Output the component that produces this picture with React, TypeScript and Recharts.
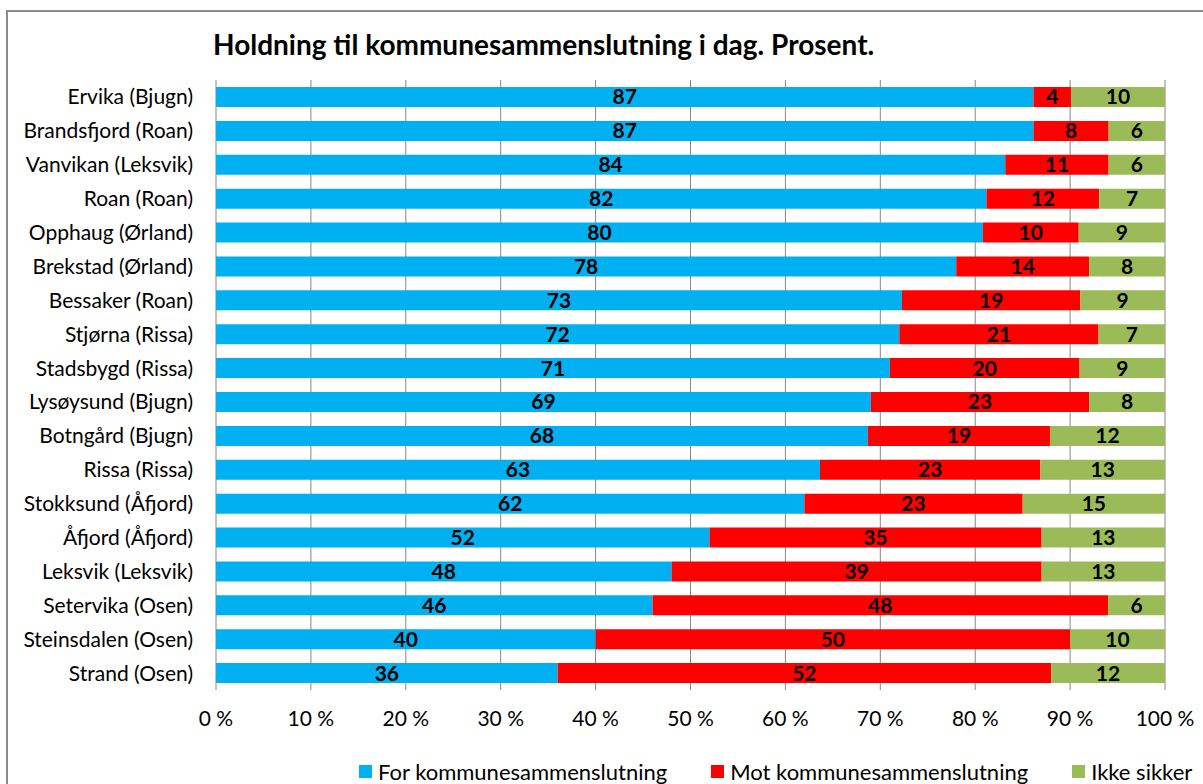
import React from 'react';
import {
  BarChart,
  Bar,
  XAxis,
  YAxis,
  CartesianGrid,
  Legend,
  LabelList
} from 'recharts';

const places = [
  'Ervika (Bjugn)',
  'Brandsfjord (Roan)',
  'Vanvikan (Leksvik)',
  'Roan (Roan)',
  'Opphaug (Ørland)',
  'Brekstad (Ørland)',
  'Bessaker (Roan)',
  'Stjørna (Rissa)',
  'Stadsbygd (Rissa)',
  'Lysøysund (Bjugn)',
  'Botngård (Bjugn)',
  'Rissa (Rissa)',
  'Stokksund (Åfjord)',
  'Åfjord (Åfjord)',
  'Leksvik (Leksvik)',
  'Setervika (Osen)',
  'Steinsdalen (Osen)',
  'Strand (Osen)'
];
const forValues = [87, 87, 84, 82, 80, 78, 73, 72, 71, 69, 68, 63, 62, 52, 48, 46, 40, 36];
const motValues = [4, 8, 11, 12, 10, 14, 19, 21, 20, 23, 19, 23, 23, 35, 39, 48, 50, 52];
const ikkeValues = [10, 6, 6, 7, 9, 8, 9, 7, 9, 8, 12, 13, 15, 13, 13, 6, 10, 12];
const xTicks = [0, 0.1, 0.2, 0.3, 0.4, 0.5, 0.6, 0.7, 0.8, 0.9, 1];

const seriesNames = ['For kommunesammenslutning', 'Mot kommunesammenslutning', 'Ikke sikker'];
const colors = ['#00B0F0', '#FF0000', '#9BBB59'];

const FONT = 'Lato, "Open Sans", sans-serif';

const data = places.map((name, i) => ({
  name,
  forV: forValues[i],
  mot: motValues[i],
  ikke: ikkeValues[i]
}));

// legend sits right of centre in the original, so pin it from the left
const LegendContent = () => (
  <div style={{ height: 30, width: 1203, boxSizing: 'border-box', display: 'flex', alignItems: 'center', whiteSpace: 'nowrap', fontFamily: FONT, fontSize: 22, color: '#000', paddingLeft: 359, paddingTop: 4 }}>
    {seriesNames.map((s, i) => (
      <div key={s} style={{ display: 'flex', flexShrink: 0, alignItems: 'center', marginLeft: i === 0 ? 0 : 44 }}>
        <span style={{ width: 13, height: 13, background: colors[i], display: 'inline-block', marginRight: 6 }} />
        <span>{s}</span>
      </div>
    ))}
  </div>
);

const labelStyle = { fill: '#000', fontSize: 21, fontWeight: 700, fontFamily: FONT };

export default function App() {
  return (
    <div style={{ position: 'absolute', top: 0, left: 0, width: 1203, height: 784, overflow: 'hidden', background: '#fff' }}>
      <div style={{ position: 'absolute', left: 6, top: 10, width: 1220, height: 800, border: '2px solid #8c8c8c', boxSizing: 'border-box' }} />
      <div style={{ position: 'absolute', left: 213, top: 27, lineHeight: '34px', fontFamily: FONT, fontWeight: 700, fontSize: 28, color: '#000', whiteSpace: 'nowrap' }}>
        Holdning til kommunesammenslutning i dag. Prosent.
      </div>
      <BarChart
        width={1203}
        height={784}
        data={data}
        layout="vertical"
        stackOffset="expand"
        barSize={20}
        margin={{ top: 80, right: 38, left: 0, bottom: 0 }}
        style={{ position: 'absolute', top: 0, left: 0 }}
      >
        <CartesianGrid horizontal={false} stroke="#868686" />
        <XAxis
          type="number"
          domain={[0, 1]}
          ticks={xTicks}
          tickFormatter={(v: number) => `${Math.round(v * 100)} %`}
          axisLine={false}
          tickLine={false}
          tickMargin={15}
          height={64}
          tick={{ fill: '#000', fontSize: 21, fontFamily: FONT }}
        />
        <YAxis
          type="category"
          dataKey="name"
          width={216}
          axisLine={false}
          tickLine={false}
          tickMargin={17}
          interval={0}
          tick={{ fill: '#000', fontSize: 21, fontFamily: FONT }}
        />
        <Legend
          verticalAlign="bottom"
          content={<LegendContent />}
          wrapperStyle={{ left: 0, width: 1203, height: 30, bottom: 0 }}
        />
        <Bar dataKey="forV" stackId="a" fill={colors[0]} name={seriesNames[0]} isAnimationActive={false}>
          <LabelList dataKey="forV" position="center" style={labelStyle} />
        </Bar>
        <Bar dataKey="mot" stackId="a" fill={colors[1]} name={seriesNames[1]} isAnimationActive={false}>
          <LabelList dataKey="mot" position="center" style={labelStyle} />
        </Bar>
        <Bar dataKey="ikke" stackId="a" fill={colors[2]} name={seriesNames[2]} isAnimationActive={false}>
          <LabelList dataKey="ikke" position="center" style={labelStyle} />
        </Bar>
      </BarChart>
    </div>
  );
}
